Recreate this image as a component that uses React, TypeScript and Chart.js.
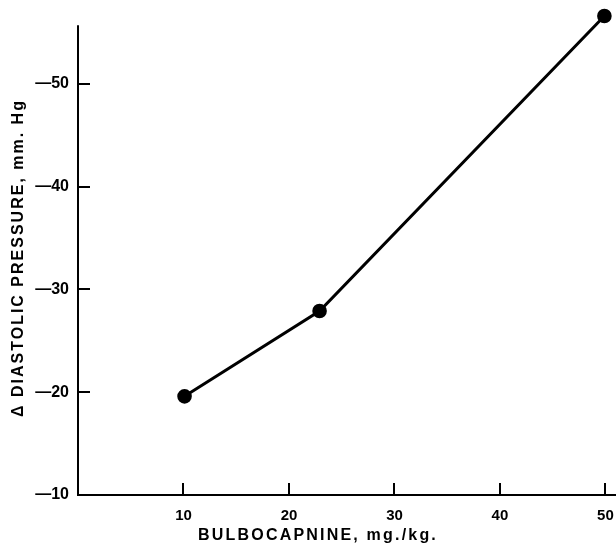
import React, { useEffect, useRef } from "react";
import { Chart, registerables } from "chart.js";

Chart.register(...registerables);

const doses = [10.1, 22.9, 49.9];
const pressureChange = [-19.6, -27.9, -56.6];
const xTicks = [10, 20, 30, 40, 50];
const yTicks = [-10, -20, -30, -40, -50];
const xTitle = "BULBOCAPNINE, mg./kg.";
const yTitle = "\u0394 DIASTOLIC PRESSURE, mm. Hg";
const yAxisEnd = -55.7;

const FONT = '"Liberation Sans", Arial, Helvetica, sans-serif';

const decorPlugin = {
  id: "decor",
  afterDraw(chart: any) {
    const ctx = chart.ctx as CanvasRenderingContext2D;
    const xs = chart.scales.x;
    const ys = chart.scales.y;
    const area = chart.chartArea;
    ctx.save();
    ctx.strokeStyle = "#000";
    ctx.lineWidth = 2;
    // y axis line
    ctx.beginPath();
    ctx.moveTo(area.left, ys.getPixelForValue(yAxisEnd));
    ctx.lineTo(area.left, area.bottom + 1);
    ctx.stroke();
    // inward tick marks
    xTicks.forEach((v) => {
      const px = Math.round(xs.getPixelForValue(v));
      ctx.beginPath();
      ctx.moveTo(px, area.bottom);
      ctx.lineTo(px, area.bottom - 12);
      ctx.stroke();
    });
    yTicks.forEach((v) => {
      const py = Math.round(ys.getPixelForValue(v));
      ctx.beginPath();
      ctx.moveTo(area.left, py);
      ctx.lineTo(area.left + 12, py);
      ctx.stroke();
    });
    // axis titles
    ctx.fillStyle = "#000";
    ctx.font = `bold 16px ${FONT}`;
    ctx.textAlign = "center";
    ctx.textBaseline = "middle";
    (ctx as any).letterSpacing = "2.2px";
    ctx.fillText(xTitle, 318, 536);
    (ctx as any).letterSpacing = "2.0px";
    ctx.translate(19, 258);
    ctx.rotate(-Math.PI / 2);
    ctx.fillText(yTitle, 0, 0);
    ctx.restore();
  },
};

export default function App() {
  const ref = useRef<HTMLCanvasElement | null>(null);

  useEffect(() => {
    if (!ref.current) return;
    const chart = new Chart(ref.current, {
      type: "line",
      data: {
        datasets: [
          {
            data: doses.map((d, i) => ({ x: d, y: pressureChange[i] })),
            borderColor: "#000",
            backgroundColor: "#000",
            borderWidth: 3,
            pointRadius: 5.8,
            pointBackgroundColor: "#000",
            pointBorderColor: "#000",
            tension: 0,
            clip: false as any,
          },
        ],
      },
      options: {
        animation: false,
        responsive: false,
        maintainAspectRatio: false,
        layout: { autoPadding: false, padding: { top: 15, right: 0, left: 0, bottom: 0 } },
        plugins: {
          legend: { display: false },
          tooltip: { enabled: false },
        },
        scales: {
          x: {
            type: "linear",
            position: "bottom",
            min: 0,
            max: 51,
            afterFit: (s: any) => {
              s.height = 49;
              s.paddingLeft = 0;
              s.paddingRight = 0;
            },
            afterBuildTicks: (s: any) => {
              s.ticks = xTicks.map((v) => ({ value: v }));
            },
            grid: { display: false, drawTicks: false },
            border: { display: true, color: "#000", width: 2 },
            ticks: {
              color: "#000",
              font: { family: FONT, size: 15, weight: "bold" },
              padding: 12,
              maxRotation: 0,
              callback: (v: any) => String(v),
            },
          },
          y: {
            type: "linear",
            position: "left",
            min: -56.7,
            max: -10,
            reverse: true,
            afterFit: (s: any) => {
              s.width = 78;
              s.paddingTop = 0;
              s.paddingBottom = 0;
            },
            afterBuildTicks: (s: any) => {
              s.ticks = yTicks.map((v) => ({ value: v }));
            },
            grid: { display: false, drawTicks: false },
            border: { display: false },
            ticks: {
              color: "#000",
              font: { family: FONT, size: 16, weight: "bold" },
              padding: 9,
              callback: (v: any) => "\u2014" + Math.abs(Number(v)),
            },
          },
        },
      },
      plugins: [decorPlugin],
    });
    return () => chart.destroy();
  }, []);

  return (
    <div style={{ position: "absolute", left: 0, top: 0, width: 616, height: 544, background: "#fff" }}>
      <canvas ref={ref} width={616} height={544} style={{ width: 616, height: 544, display: "block" }} />
    </div>
  );
}
